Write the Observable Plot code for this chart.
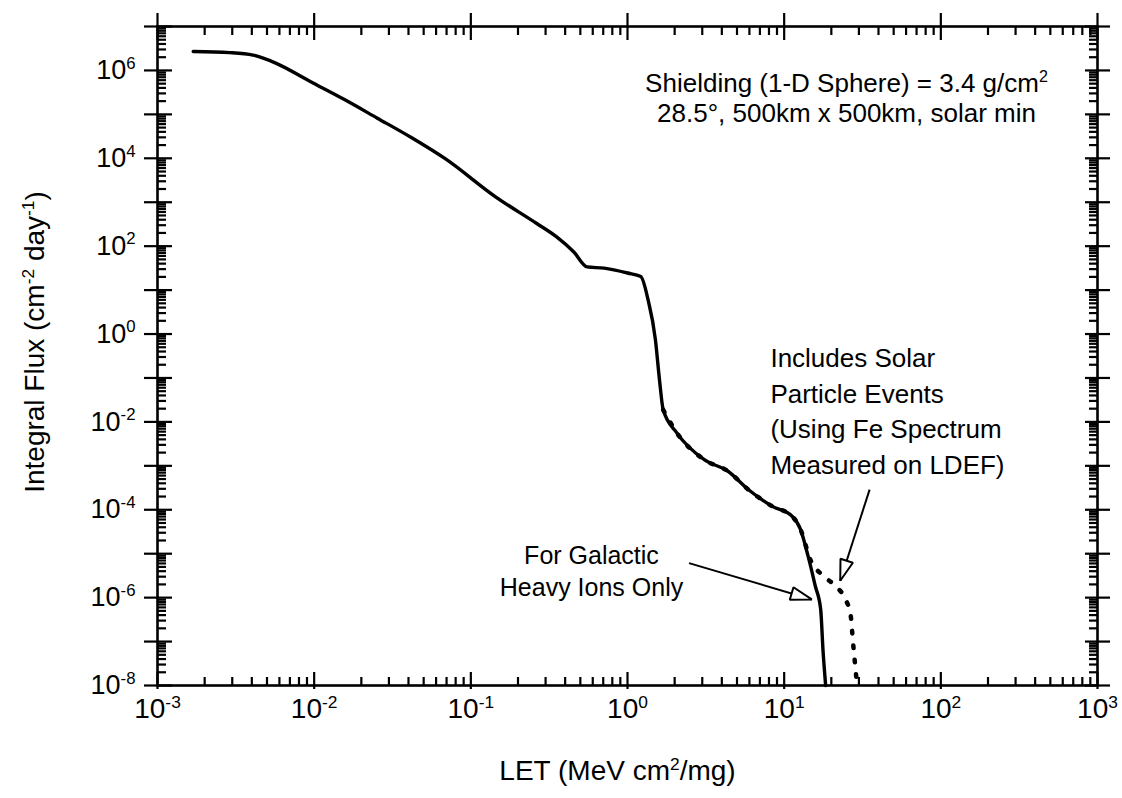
<!DOCTYPE html>
<html>
<head>
<meta charset="utf-8">
<script src="https://cdn.jsdelivr.net/npm/d3@7"></script>
<script src="https://cdn.jsdelivr.net/npm/@observablehq/plot@0.6"></script>
<style>
  html, body { margin: 0; padding: 0; background: #fff; }
  #chart { width: 1122px; height: 798px; }
</style>
</head>
<body>
<div id="chart"></div>
<script>
// ---- Data ----
// Galactic heavy ions only (solid curve)
const letGalactic = [0.00169, 0.00289, 0.00407, 0.00573, 0.00944, 0.0155, 0.0253, 0.0417, 0.0686,
  0.1445, 0.262, 0.353, 0.453, 0.553, 0.708, 1.00, 1.216, 1.352, 1.507, 1.60, 1.69, 2.07, 3.09,
  4.38, 5.90, 8.36, 11.2, 12.7, 14.2, 15.8, 17.1, 17.7, 18.4];
const fluxGalactic = [2.7e6, 2.54e6, 2.23e6, 1.45e6, 5.6e5, 2.2e5, 8.2e4, 2.97e4, 9.8e3,
  1.31e3, 333, 163, 74.8, 33.7, 31.6, 24.5, 20.3, 6.07, 0.745, 0.091, 0.0188, 0.00555, 0.00138,
  7.53e-4, 2.89e-4, 1.21e-4, 7.21e-5, 3.61e-5, 8.9e-6, 1.84e-6, 5.43e-7, 6.3e-8, 1e-8];
// Includes solar particle events (dotted curve)
const letSolar = [1.69, 2.07, 3.09, 4.38, 5.90, 8.36, 11.2, 12.7, 14.8, 17.8, 21.6, 24.6, 26.6, 27.4, 29.2];
const fluxSolar = [0.0188, 0.00555, 0.00138, 7.53e-4, 2.89e-4, 1.21e-4, 7.21e-5, 3.61e-5,
  6.85e-6, 3.13e-6, 1.74e-6, 9.25e-7, 3.86e-7, 1.14e-7, 1e-8];

// Axis ticks and labels
const xDecades = [1e-3, 1e-2, 1e-1, 1, 10, 100, 1000];
const xTickLabels = ["10^-3", "10^-2", "10^-1", "10^0", "10^1", "10^2", "10^3"];
const yDecades = [1e-8, 1e-7, 1e-6, 1e-5, 1e-4, 1e-3, 1e-2, 1e-1, 1, 10, 100, 1e3, 1e4, 1e5, 1e6, 1e7];
const yLabelTicks = [1e-8, 1e-6, 1e-4, 1e-2, 1, 100, 1e4, 1e6];
const yTickLabels = ["10^-8", "10^-6", "10^-4", "10^-2", "10^0", "10^2", "10^4", "10^6"];
const minorMultiples = [2, 3, 4, 5, 6, 7, 8, 9];

const xTitle = "LET (MeV cm^2/mg)";
const yTitle = "Integral Flux (cm^-2 day^-1)";
const shieldNote = "Shielding (1-D Sphere) = 3.4 g/cm^2\n28.5°, 500km x 500km, solar min";
const solarNote = "Includes Solar\nParticle Events\n(Using Fe Spectrum\nMeasured on LDEF)";
const galacticNote = "For Galactic\nHeavy Ions Only";

// ---- Build tables ----
const galactic = letGalactic.map((x, i) => ({let: x, flux: fluxGalactic[i]}));
const solar = letSolar.map((x, i) => ({let: x, flux: fluxSolar[i]}));
const xMinor = xDecades.slice(0, -1).flatMap(d => minorMultiples.map(m => d * m));
const yMinor = yDecades.slice(0, -1).flatMap(d => minorMultiples.map(m => d * m));

// open triangle arrow head
function openTriangle() {
  const ns = "http://www.w3.org/2000/svg";
  const m = document.createElementNS(ns, "marker");
  m.setAttribute("viewBox", "-24 -10 26 20");
  m.setAttribute("markerWidth", 26);
  m.setAttribute("markerHeight", 20);
  m.setAttribute("markerUnits", "userSpaceOnUse");
  m.setAttribute("orient", "auto");
  m.setAttribute("refX", 0);
  m.setAttribute("refY", 0);
  const p = document.createElementNS(ns, "path");
  p.setAttribute("d", "M0,0L-21,-6.5L-21,6.5Z");
  p.setAttribute("fill", "white");
  p.setAttribute("stroke", "black");
  p.setAttribute("stroke-width", 2);
  p.setAttribute("stroke-linejoin", "miter");
  m.appendChild(p);
  return m;
}

const tk = {stroke: "black", strokeWidth: 2.2, fill: "none", label: null};
const lbl = {tickSize: 0, label: null, fill: "black"};

const chart = Plot.plot({
  width: 1122,
  height: 798,
  marginLeft: 157,
  marginRight: 25,
  marginTop: 26,
  marginBottom: 113,
  style: {fontFamily: "'Liberation Sans', Arial, Helvetica, sans-serif", background: "white", color: "black"},
  x: {type: "log", domain: [1e-3, 1e3]},
  y: {type: "log", domain: [1e-8, 1e7]},
  marks: [
    // minor ticks (inward)
    Plot.axisX(xMinor, {anchor: "bottom", tickSize: -8, ...tk}),
    Plot.axisX(xMinor, {anchor: "top", tickSize: -8, ...tk}),
    Plot.axisY(yMinor, {anchor: "left", tickSize: -9, ...tk}),
    Plot.axisY(yMinor, {anchor: "right", tickSize: -9, ...tk}),
    // major ticks crossing the frame
    Plot.axisX(xDecades, {anchor: "bottom", tickSize: -13, ...tk}),
    Plot.axisX(xDecades, {anchor: "bottom", tickSize: 4, ...tk}),
    Plot.axisX(xDecades, {anchor: "top", tickSize: -13, ...tk}),
    Plot.axisX(xDecades, {anchor: "top", tickSize: 14, ...tk}),
    Plot.axisY(yDecades, {anchor: "left", tickSize: -15, ...tk}),
    Plot.axisY(yDecades, {anchor: "left", tickSize: 13, ...tk}),
    Plot.axisY(yDecades, {anchor: "right", tickSize: -13, ...tk}),
    Plot.axisY(yDecades, {anchor: "right", tickSize: 12, ...tk}),
    // tick labels
    Plot.axisX(xDecades, {anchor: "bottom", tickPadding: 13, fontSize: 28,
      tickFormat: d => xTickLabels[xDecades.indexOf(d)], ...lbl}),
    Plot.axisY(yLabelTicks, {anchor: "left", tickPadding: 22, fontSize: 27,
      tickFormat: d => yTickLabels[yLabelTicks.indexOf(d)], ...lbl}),
    Plot.frame({stroke: "black", strokeWidth: 2.6}),
    // curves
    Plot.line(galactic, {x: "let", y: "flux", curve: "monotone-x", stroke: "black", strokeWidth: 3.4, strokeLinejoin: "round"}),
    Plot.line(solar, {x: "let", y: "flux", curve: "monotone-x", stroke: "black", strokeWidth: 4.5, strokeDasharray: "2.5,12", strokeLinecap: "round"}),
    // arrows
    Plot.link([0], {x1: 2.47, y1: 6.1e-6, x2: 15.0, y2: 9.1e-7, stroke: "black", strokeWidth: 2, markerEnd: openTriangle}),
    Plot.link([0], {x1: 35.1, y1: 2.88e-4, x2: 22.8, y2: 2.42e-6, stroke: "black", strokeWidth: 2, markerEnd: openTriangle}),
    // annotations
    Plot.text([shieldNote], {text: d => d, x: 25, y: 2.4e5, fontSize: 26, lineHeight: 1.12, textAnchor: "middle", lineAnchor: "middle", fill: "black"}),
    Plot.text([solarNote], {text: d => d, x: 8.17, y: 0.0195, fontSize: 26, lineHeight: 1.36, textAnchor: "start", lineAnchor: "middle", fill: "black"}),
    Plot.text([galacticNote], {text: d => d, x: 0.589, y: 4.27e-6, fontSize: 25, lineHeight: 1.25, textAnchor: "middle", lineAnchor: "middle", fill: "black"}),
    // axis titles
    Plot.text([xTitle], {text: d => d, frameAnchor: "bottom", dy: 86, dx: -10, fontSize: 28, textAnchor: "middle", lineAnchor: "middle", fill: "black"}),
    Plot.text([yTitle], {text: d => d, frameAnchor: "left", rotate: -90, dx: -122, dy: -14, fontSize: 28, textAnchor: "middle", lineAnchor: "middle", fill: "black"})
  ]
});

// turn "^exp" into real superscript tspans; if a line ends raised,
// the next line's offset absorbs the restore
function supify(svg) {
  const ns = "http://www.w3.org/2000/svg";
  const RAISE = 0.385;
  svg.querySelectorAll("text, tspan").forEach(el => {
    if (el.childNodes.length !== 1 || el.firstChild.nodeType !== 3) return;
    const s = el.textContent;
    if (!s.includes("^")) return;
    const parts = s.split(/\^(-?\d+)/);
    el.textContent = "";
    let raised = false;
    parts.forEach((p, i) => {
      if (p === "") return;
      const t = document.createElementNS(ns, "tspan");
      t.textContent = p;
      if (i % 2 === 1) {
        t.setAttribute("font-size", "62%");
        t.setAttribute("dy", "-0.62em");
        raised = true;
      } else if (raised) {
        t.setAttribute("dy", RAISE + "em");
        raised = false;
      }
      el.appendChild(t);
    });
    if (raised && el.tagName.toLowerCase() === "tspan" && el.nextElementSibling) {
      const nxt = el.nextElementSibling;
      const dy = parseFloat(nxt.getAttribute("dy") || "0");
      nxt.setAttribute("dy", (dy + RAISE) + "em");
    }
  });
}
supify(chart);
document.getElementById("chart").appendChild(chart);
</script>
</body>
</html>
